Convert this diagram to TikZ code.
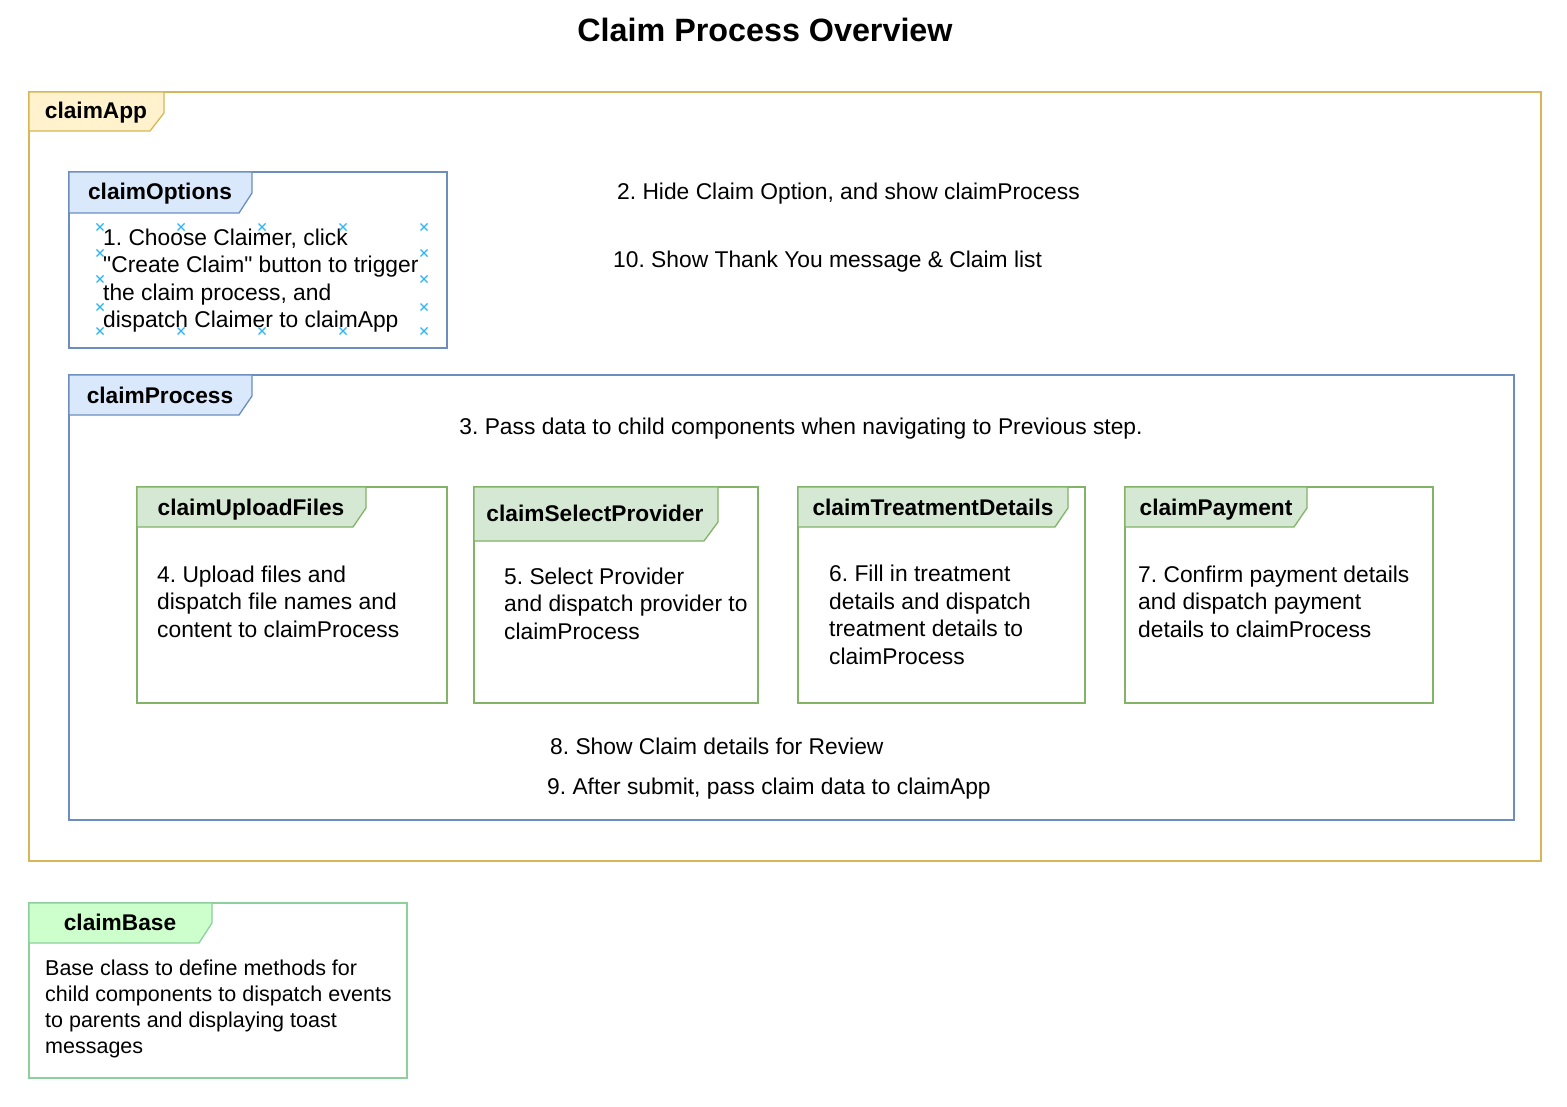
\documentclass[tikz,border=0pt]{standalone}
\usepackage{fontspec}
\setmainfont{Liberation Sans}
\frenchspacing
\definecolor{goldS}{HTML}{D6B656}
\definecolor{goldF}{HTML}{FFF2CC}
\definecolor{blueS}{HTML}{6C8EBF}
\definecolor{blueF}{HTML}{DAE8FC}
\definecolor{grnS}{HTML}{82B366}
\definecolor{grnF}{HTML}{D5E8D4}
\definecolor{baseS}{HTML}{8ECF9E}
\definecolor{baseF}{HTML}{CCFFCC}
\definecolor{markC}{HTML}{29B6F2}
\tikzset{
  frm/.style={draw, line width=1.3pt, fill=white, anchor=north west, inner sep=0pt, outer sep=0pt},
  tab/.style={draw, line width=1.3pt, line join=miter},
  tablbl/.style={font=\fontsize{22.7}{26}\selectfont\bfseries, inner sep=0pt, anchor=base},
  body/.style={font=\fontsize{22.8}{27.5}\selectfont, inner sep=0pt, align=left, anchor=base west},
  line/.style={font=\fontsize{22.8}{27}\selectfont, inner sep=0pt, anchor=base west},
  mk/.style={draw=markC, line width=1.1pt},
}
\begin{document}
\begin{tikzpicture}[x=1pt,y=-1pt]
\useasboundingbox (0,0) rectangle (1567,1107);
% title
\node[font=\fontsize{32.3}{36}\selectfont\bfseries, inner sep=0pt] (title) at (765,30) {Claim Process Overview};

% claimApp
\node[frm, draw=goldS, fill=none, minimum width=1512pt, minimum height=769pt] (app) at (29,92) {};
\path[tab, draw=goldS, fill=goldF] (29,92) -- (164,92) -- (164,113) -- (150,131) -- (29,131) -- cycle;
\node[tablbl] (applbl) at (96,119) {claimApp};

% claimOptions
\node[frm, draw=blueS, minimum width=378pt, minimum height=176pt] (opt) at (69,172) {};
\path[tab, draw=blueS, fill=blueF] (69,172) -- (252,172) -- (252,193) -- (239,213) -- (69,213) -- cycle;
\node[tablbl] (optlbl) at (160,200) {claimOptions};
\node[body] (opttxt) at (103,328) {1. Choose Claimer, click\\\textquotedbl Create Claim\textquotedbl{} button to trigger\\the claim process, and\\dispatch Claimer to claimApp};
\foreach \px in {100,181,262,343,424}{
  \draw[mk] (\px-3.5,227-3.5) -- (\px+3.5,227+3.5) (\px-3.5,227+3.5) -- (\px+3.5,227-3.5);
  \draw[mk] (\px-3.5,331-3.5) -- (\px+3.5,331+3.5) (\px-3.5,331+3.5) -- (\px+3.5,331-3.5);
}
\foreach \py in {253,279,307}{
  \draw[mk] (100-3.5,\py-3.5) -- (100+3.5,\py+3.5) (100-3.5,\py+3.5) -- (100+3.5,\py-3.5);
  \draw[mk] (424-3.5,\py-3.5) -- (424+3.5,\py+3.5) (424-3.5,\py+3.5) -- (424+3.5,\py-3.5);
}

\node[line] (t2) at (617,200) {2. Hide Claim Option, and show claimProcess};
\node[line] (t10) at (613,268) {10. Show Thank You message \& Claim list};

% claimProcess
\node[frm, draw=blueS, minimum width=1445pt, minimum height=445pt] (proc) at (69,375) {};
\path[tab, draw=blueS, fill=blueF] (69,375) -- (252,375) -- (252,396) -- (239,415) -- (69,415) -- cycle;
\node[tablbl] (proclbl) at (160,403) {claimProcess};
\node[line, anchor=base] (t3) at (801,435) {3. Pass data to child components when navigating to Previous step.};

% claimUploadFiles
\node[frm, draw=grnS, minimum width=310pt, minimum height=216pt] (upl) at (137,487) {};
\path[tab, draw=grnS, fill=grnF] (137,487) -- (366,487) -- (366,508) -- (353,527) -- (137,527) -- cycle;
\node[tablbl] (upllbl) at (251,515) {claimUploadFiles};
\node[body] (upltxt) at (157,637) {4. Upload files and\\dispatch file names and\\content to claimProcess};

% claimSelectProvider
\node[frm, draw=grnS, minimum width=284pt, minimum height=216pt] (sel) at (474,487) {};
\path[tab, draw=grnS, fill=grnF] (474,487) -- (718,487) -- (718,522) -- (704,541) -- (474,541) -- cycle;
\node[tablbl] (sellbl) at (595,521) {claimSelectProvider};
\node[body] (seltxt) at (504,639) {5. Select Provider\\and dispatch provider to\\claimProcess};

% claimTreatmentDetails
\node[frm, draw=grnS, minimum width=287pt, minimum height=216pt] (trt) at (798,487) {};
\path[tab, draw=grnS, fill=grnF] (798,487) -- (1068,487) -- (1068,508) -- (1055,527) -- (798,527) -- cycle;
\node[tablbl] (trtlbl) at (933,515) {claimTreatmentDetails};
\node[body] (trttxt) at (829,664) {6. Fill in treatment\\details and dispatch\\treatment details to\\claimProcess};

% claimPayment
\node[frm, draw=grnS, minimum width=308pt, minimum height=216pt] (pay) at (1125,487) {};
\path[tab, draw=grnS, fill=grnF] (1125,487) -- (1307,487) -- (1307,508) -- (1294,527) -- (1125,527) -- cycle;
\node[tablbl] (paylbl) at (1216,515) {claimPayment};
\node[body] (paytxt) at (1138,637) {7. Confirm payment details\\and dispatch payment\\details to claimProcess};

\node[line] (t8) at (550,754) {8. Show Claim details for Review};
\node[line] (t9) at (547,794) {9. After submit, pass claim data to claimApp};

% claimBase
\node[frm, draw=baseS, minimum width=378pt, minimum height=175pt] (base) at (29,903) {};
\path[tab, draw=baseS, fill=baseF] (29,903) -- (212,903) -- (212,923) -- (199,943) -- (29,943) -- cycle;
\node[tablbl] (baselbl) at (120,930) {claimBase};
\node[body, font=\fontsize{21.5}{26}\selectfont] (basetxt) at (45,1053) {Base class to define methods for\\child components to dispatch events\\to parents and displaying toast\\messages};
\end{tikzpicture}
\end{document}
